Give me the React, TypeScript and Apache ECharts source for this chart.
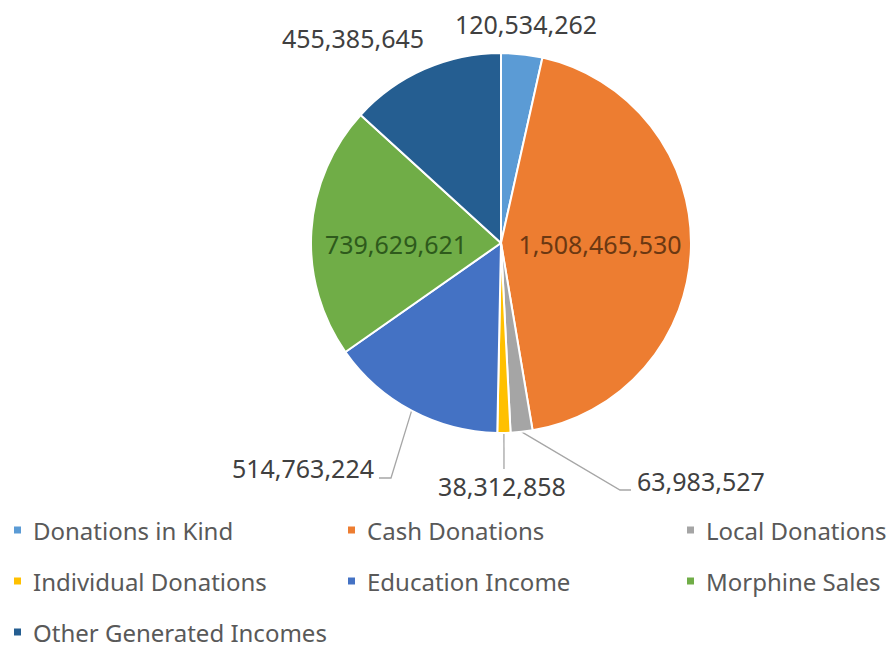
import React, { useEffect, useRef } from "react";
import * as echarts from "echarts";

const categories = [
  "Donations in Kind",
  "Cash Donations",
  "Local Donations",
  "Individual Donations",
  "Education Income",
  "Morphine Sales",
  "Other Generated Incomes",
];
const values = [120534262, 1508465530, 63983527, 38312858, 514763224, 739629621, 455385645];
const colors = ["#5B9BD5", "#ED7D31", "#A5A5A5", "#FFC000", "#4472C4", "#70AD47", "#255E91"];
const legendColumns = [
  ["Donations in Kind", "Individual Donations", "Other Generated Incomes"],
  ["Cash Donations", "Education Income"],
  ["Local Donations", "Morphine Sales"],
];

// label placement (layout only)
const labelLayoutSpec: any[] = [
  { x: 526, y: 24, align: "center", line: null },
  { x: 600, y: 244, align: "center", line: null, inside: true, color: "#6B3812" },
  { x: 637, y: 481, align: "left", line: [[620, 490], [631, 490]] },
  { x: 502, y: 486, align: "center", line: [[504, 469]] },
  { x: 374, y: 468, align: "right", line: [[391, 478], [379, 478]] },
  { x: 396, y: 244, align: "center", line: null, inside: true, color: "#2E5A1C" },
  { x: 353, y: 38, align: "center", line: null },
];
const legendLefts = [12, 346, 685];

export default function App() {
  const ref = useRef<HTMLDivElement>(null);
  useEffect(() => {
    document.body.style.margin = "0";
    const chart = echarts.init(ref.current!, null, { renderer: "svg" });
    const fmt = (v: number) => v.toLocaleString("en-US");
    chart.setOption({
      animation: false,
      backgroundColor: "#ffffff",
      legend: legendColumns.map((col, i) => ({
        data: col,
        orient: "vertical",
        left: legendLefts[i],
        top: 518,
        padding: 0,
        itemWidth: 9,
        itemHeight: 9,
        itemGap: 27,
        icon: "rect",
        selectedMode: false,
        textStyle: {
          fontFamily: "Noto Sans",
          fontSize: 24,
          color: "#595959",
          lineHeight: 24,
          padding: [0, 0, 0, 6],
        },
      })),
      series: [
        {
          type: "pie",
          center: [501, 243],
          radius: 190,
          startAngle: 90,
          clockwise: true,
          itemStyle: { borderColor: "#ffffff", borderWidth: 2 },
          label: {
            show: true,
            position: "outside",
            formatter: (p: any) => fmt(p.value),
            fontFamily: "Noto Sans",
            fontSize: 25,
            color: "#404040",
          },
          labelLine: { show: true, lineStyle: { color: "#A6A6A6", width: 1.3 } },
          labelLayout: (params: any) => {
            const s = labelLayoutSpec[params.dataIndex];
            const out: any = { x: s.x, y: s.y, align: s.align, verticalAlign: "middle" };
            if (s.line && params.labelLinePoints) {
              out.labelLinePoints = [params.labelLinePoints[0], ...s.line];
            }
            return out;
          },
          data: categories.map((name, i) => {
            const s = labelLayoutSpec[i];
            const item: any = { name, value: values[i], itemStyle: { color: colors[i] } };
            if (s.inside) {
              item.label = { position: "inside", color: s.color };
              item.labelLine = { show: false };
            } else if (!s.line) {
              item.labelLine = { show: false };
            }
            return item;
          }),
        },
      ],
    });
    return () => chart.dispose();
  }, []);
  return <div ref={ref} style={{ width: 893, height: 648 }} />;
}
